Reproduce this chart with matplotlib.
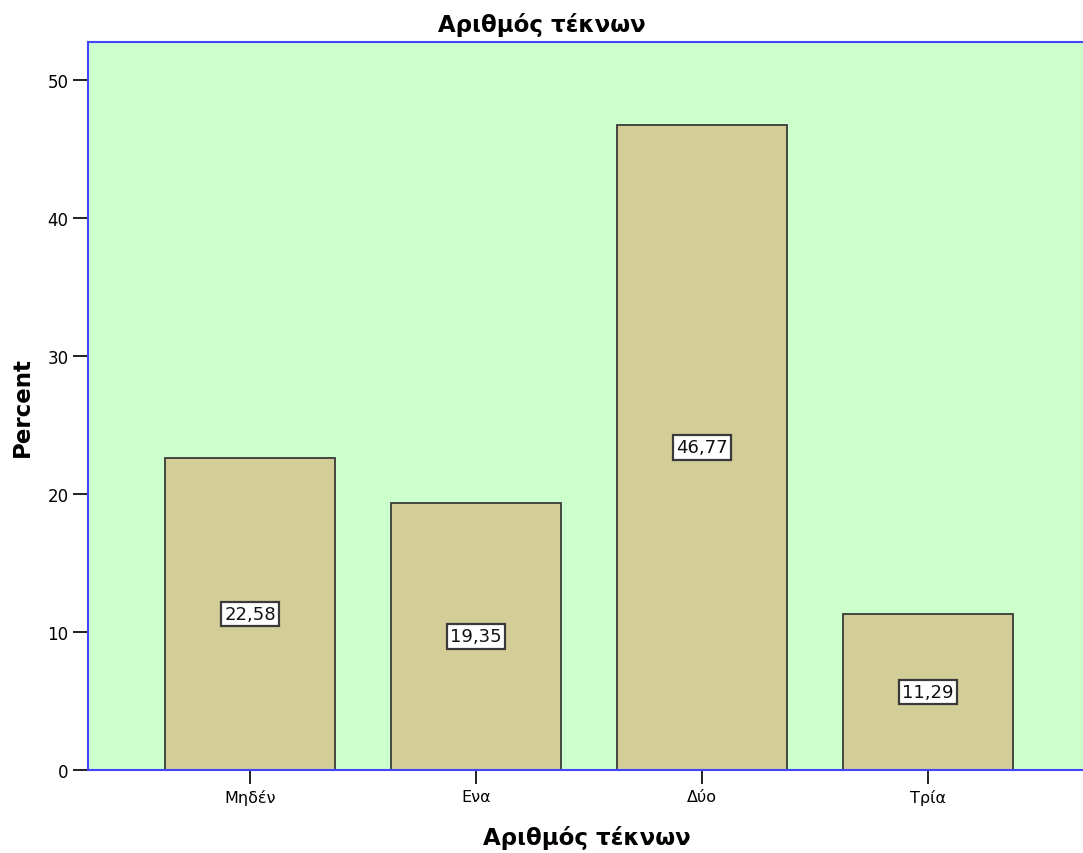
import matplotlib
matplotlib.use("Agg")
import matplotlib.pyplot as plt

categories = ["Μηδέν", "Ενα", "Δύο", "Τρία"]
percent = [22.58, 19.35, 46.77, 11.29]
yticks = [0, 10, 20, 30, 40, 50]

plt.rcParams['font.family'] = ['DejaVu Sans']

fig = plt.figure(figsize=(10.83, 8.54), dpi=100)
ax = fig.add_axes([88 / 1083, 83 / 854, 1 - 88 / 1083 + 0.002, (771 - 43) / 854])
ax.set_facecolor("#CCFFCC")

x = list(range(len(categories)))
ax.bar(x, percent, width=0.75, color="#D3CD97", edgecolor="#3a3a3a", linewidth=1.3, zorder=2)

for xi, v in zip(x, percent):
    ax.text(xi, v / 2, f"{v:.2f}".replace(".", ","), ha="center", va="center", fontsize=13,
            color="#111111", zorder=3,
            bbox=dict(boxstyle="square,pad=0.18", facecolor="white", edgecolor="#3a3a3a", linewidth=1.6))

ax.set_xlim(-0.717, 3.695)
ax.set_ylim(0, 52.75)
ax.set_xticks(x)
ax.set_xticklabels(categories, fontsize=11.5)
ax.set_yticks(yticks)
ax.set_yticklabels([str(t) for t in yticks], fontsize=12)
ax.tick_params(axis="y", direction="out", length=11, width=1.3, color="#111111", pad=3)
ax.tick_params(axis="x", direction="out", length=10, width=1.3, color="#111111", pad=4)

for side, sp in ax.spines.items():
    sp.set_color("#4444FF")
    sp.set_linewidth(1.5)
ax.spines["right"].set_visible(False)

ax.set_ylabel("Percent", fontsize=16.5, fontweight="bold", va="center", ha="center")
ax.yaxis.set_label_coords(-0.0663, 0.5)
ax.set_xlabel("Αριθμός τέκνων", fontsize=16.5, fontweight="bold", va="center", ha="center")
ax.xaxis.set_label_coords(0.5, -0.092)
fig.text(0.5, 1 - 25 / 854, "Αριθμός τέκνων", ha="center", va="center", fontsize=16.5, fontweight="bold")

fig.savefig("out.png", dpi=100)
